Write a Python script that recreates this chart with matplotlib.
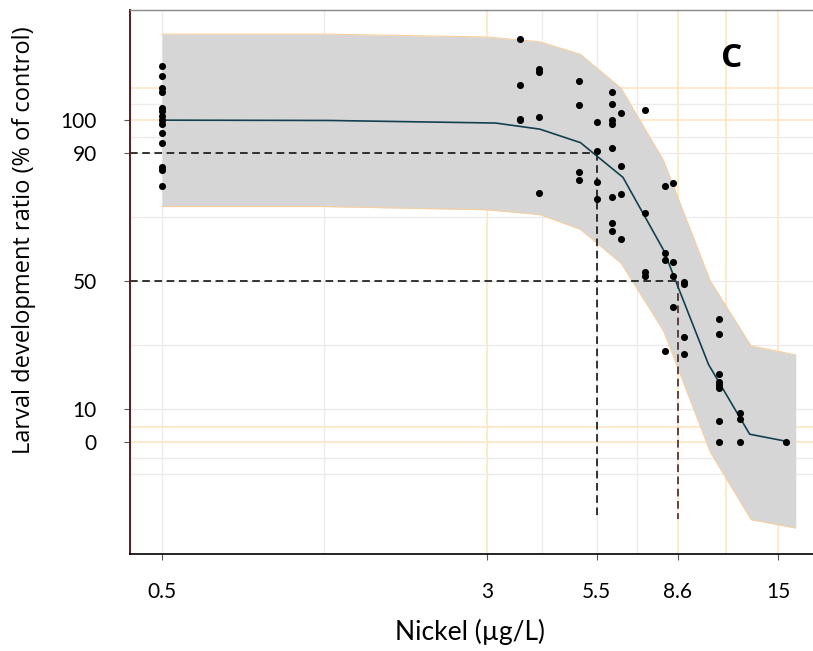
import matplotlib
matplotlib.use("Agg")
import matplotlib.pyplot as plt
import numpy as np

# Observed larval development ratios (% of control) per nickel concentration (µg/L)
conc_levels = [0.5, 3.6, 4.0, 5.0, 5.5, 6.0, 6.3, 7.2, 8.0, 8.4, 8.9, 10.8, 12.1, 15.6]
ratios = {
    0.5: [117, 114, 110, 109, 104, 103, 101.5, 100, 99, 96, 93, 85.5, 84.5, 79.5],
    3.6: [125.5, 111, 100.5, 100],
    4.0: [116, 115, 101, 77.5],
    5.0: [112.3, 104.7, 84, 81.5],
    5.5: [99.6, 90.4, 80.7, 75.6],
    6.0: [109, 105, 100, 99, 91.3, 76.3, 68, 65.5],
    6.3: [102.3, 85.7, 77.2, 63],
    7.2: [103.2, 71.2, 52.7, 51.7],
    8.0: [79.7, 58.8, 56.5, 28.1],
    8.4: [80.4, 55.9, 51.5, 42],
    8.9: [49.6, 49, 32.7, 27.2],
    10.8: [38.3, 33.5, 21, 18.5, 17.5, 16.8, 6.3, 0],
    12.1: [8.8, 7.1, 0],
    15.6: [0],
}

# Fitted dose-response curve and its confidence band
fit_x = [0.5, 1.26, 3.15, 4.02, 5.03, 6.36, 7.96, 10.2, 12.8, 15.8]
fit_y = [100.1, 100, 99.2, 97.3, 93.1, 82.3, 59.6, 24, 2.3, 0]
band_x = [0.5, 1.22, 3.0, 4.02, 5.03, 6.3, 7.96, 10.3, 12.9, 16.5]
band_hi = [126.9, 126.9, 126.0, 124.5, 120.6, 110, 87.5, 50, 29.8, 27]
band_lo = [73.2, 73.2, 72.2, 70.7, 66.1, 55.5, 34.4, -3.3, -24.3, -26.9]

# Effect concentrations: EC10 and EC50
ec_levels = [90, 50]
ec_conc = [5.5, 8.6]

x_ticks = [0.5, 3, 5.5, 8.6, 15]
x_ticklabels = ["0.5", "3", "5.5", "8.6", "15"]
y_ticks = [0, 10, 50, 90, 100]
y_ticklabels = ["0", "10", "50", "90", "100"]

grid_x_grey = [0.5, 1.22, 4.07, 5.5, 6.86]
grid_x_orange = [3, 8.6, 11.2, 15]
grid_y_grey = [105, 95, 90, 70, 50, 30, 10, -5, -10]
grid_y_orange = [110, 100, 4.7, 0]

fig = plt.figure(figsize=(8.13, 6.51), dpi=100)
ax = fig.add_axes([130 / 813, 1 - 554 / 651, 1 - 130 / 813, (554 - 10) / 651])
ax.set_xscale("log")
ax.set_xlim(0.419, 18.15)
ax.set_ylim(-35, 134.4)

for gx in grid_x_grey:
    ax.axvline(gx, color="#ebebeb", lw=1.0, zorder=0)
for gx in grid_x_orange:
    ax.axvline(gx, color="#fde6c4", lw=1.2, zorder=0)
for gy in grid_y_grey:
    ax.axhline(gy, color="#ebebeb", lw=1.0, zorder=0)
for gy in grid_y_orange:
    ax.axhline(gy, color="#fde6c4", lw=1.2, zorder=0)

ax.fill_between(band_x, band_lo, band_hi, color="#d6d6d6", lw=0, zorder=1)
ax.plot(band_x, band_hi, color="#f7cf9f", lw=0.8, zorder=1.5)
ax.plot(band_x, band_lo, color="#f7cf9f", lw=0.8, zorder=1.5)

for c in conc_levels:
    ys = ratios[c]
    ax.scatter([c] * len(ys), ys, s=26, color="black", zorder=4, linewidths=0)

ax.plot(fit_x, fit_y, color="#12404f", lw=1.2, zorder=3)

y_floor = -24
for lvl, c, col in zip(ec_levels, ec_conc, ["black", "#3a1414"]):
    ax.plot([0.419, c], [lvl, lvl], color="black", lw=1.1, ls=(0, (5, 3)), zorder=2.5)
    ax.plot([c, c], [lvl, y_floor], color=col, lw=1.1, ls=(0, (5, 3)), zorder=2.5)

ax.text(11.6, 119.4, "C", fontsize=24, fontweight="bold", family="Open Sans",
        ha="center", va="center")

ax.set_xticks(x_ticks)
ax.set_xticklabels(x_ticklabels)
ax.xaxis.set_minor_locator(matplotlib.ticker.NullLocator())
ax.set_yticks(y_ticks)
ax.set_yticklabels(y_ticklabels)
for lab in ax.get_xticklabels() + ax.get_yticklabels():
    lab.set_family("Lato")
    lab.set_fontsize(15)
ax.tick_params(axis="x", length=4, width=0.8, color="#555555", pad=16)
ax.tick_params(axis="y", length=4, width=0.8, color="#555555", pad=20)

ax.spines["left"].set_color("#5a1c1c")
ax.spines["left"].set_linewidth(1.4)
ax.spines["bottom"].set_color("black")
ax.spines["bottom"].set_linewidth(1.2)
ax.spines["top"].set_color("#888888")
ax.spines["top"].set_linewidth(1.0)
ax.spines["right"].set_visible(False)

fig.text(470 / 813, 1 - 632 / 651, "Nickel (µg/L)", fontsize=19, family="Lato",
         ha="center", va="center")
fig.text(24 / 813, 1 - 240 / 651, "Larval development ratio (% of control)",
         fontsize=17, family="Open Sans", rotation=90, ha="center", va="center")

fig.savefig("out.png", dpi=100)
